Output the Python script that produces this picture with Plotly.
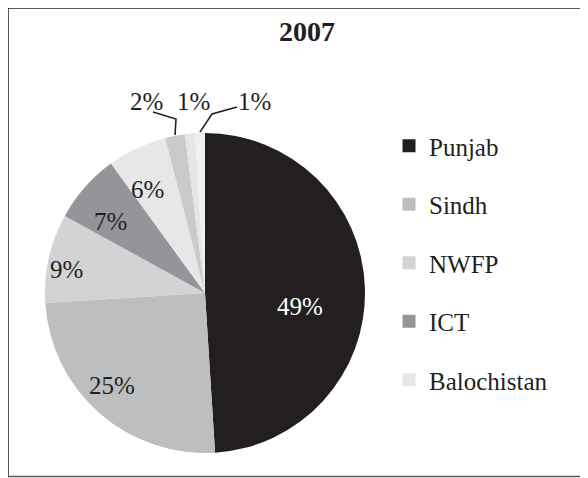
import math
import plotly.graph_objects as go

# ---- data ----
regions = ["Punjab", "Sindh", "NWFP", "ICT", "Balochistan", "FATA", "AJK", "Northern Areas"]
shares = [49, 25, 9, 7, 6, 2, 1, 1]
legend_regions = ["Punjab", "Sindh", "NWFP", "ICT", "Balochistan"]
title_text = "2007"

# ---- styling ----
W, H = 580, 470          # figure size (page adds an 8px body margin)
OFF = 8
colors = ["#231f20", "#bcbec0", "#d1d3d4", "#939598", "#e6e7e8", "#c9cacc", "#e4e5e6", "#eeeff0"]
FONT = "Liberation Serif, Times New Roman, serif"
INK = "#231f20"
CX, CY, R = 205, 293, 160  # pie centre / radius in picture px


def P(x, y):
    """picture px -> paper coords"""
    return (x - OFF) / W, 1 - (y - OFF) / H


dom_x = [(CX - R - OFF) / W, (CX + R - OFF) / W]
dom_y = [1 - (CY + R - OFF) / H, 1 - (CY - R - OFF) / H]

fig = go.Figure()
fig.add_trace(go.Pie(
    labels=regions, values=shares, sort=False, direction="clockwise", rotation=0,
    marker=dict(colors=colors, line=dict(width=0)),
    textinfo="none",
    domain=dict(x=dom_x, y=dom_y), showlegend=False, hoverinfo="label+percent",
))

# legend via dummy traces (only five regions appear in the reference legend)
for name in legend_regions:
    fig.add_trace(go.Scatter(
        x=[None], y=[None], mode="markers", name=name, legendgroup=name,
        marker=dict(symbol="square", size=13, color=colors[regions.index(name)]),
    ))

total = sum(shares)
cum = 0
mids = []
for v in shares:
    mids.append((cum + v / 2) / total)
    cum += v

shapes, annotations = [], []

# inside labels: (radius fraction, angular nudge in degrees, text colour)
inside_style = {0: (0.60, 10, "white"), 1: (0.82, 4, INK), 2: (0.88, -3, INK),
                3: (0.74, -4, INK), 4: (0.74, -4, INK)}
for idx, (rf, nudge, col) in inside_style.items():
    th = math.radians(mids[idx] * 360 + nudge)
    x = CX + rf * R * math.sin(th)
    y = CY - rf * R * math.cos(th)
    px, py = P(x, y)
    annotations.append(dict(x=px, y=py, xref="paper", yref="paper", xanchor="center", yanchor="middle",
                            text=f"{round(shares[idx] / total * 100)}%", showarrow=False,
                            font=dict(family=FONT, size=25, color=col)))

# outside labels for the small slices: (text centre, elbow, tail) in picture px
small_layout = {
    5: ((146, 101), (176, 119), (153, 112)),
    6: ((193, 101), None, None),
    7: ((254, 101), (212, 114), (237, 107)),
}
for idx, (tpos, elbow, tail) in small_layout.items():
    th = 2 * math.pi * mids[idx]
    ex = CX + R * math.sin(th)
    ey = CY - R * math.cos(th)
    tx, ty = P(*tpos)
    annotations.append(dict(x=tx, y=ty, xref="paper", yref="paper", xanchor="center", yanchor="middle",
                            text=f"{round(shares[idx] / total * 100)}%", showarrow=False,
                            font=dict(family=FONT, size=25, color=INK)))
    if elbow:
        p0 = P(ex, ey - 1)
        p1 = P(*elbow)
        p2 = P(*tail)
        shapes.append(dict(type="path", xref="paper", yref="paper",
                           path=f"M {p0[0]} {p0[1]} L {p1[0]} {p1[1]} L {p2[0]} {p2[1]}",
                           line=dict(color=INK, width=1.6)))

# frame (left, top, bottom; right edge lies outside the picture)
a, b = P(7.5, 477), P(7.5, 6)
shapes.append(dict(type="line", xref="paper", yref="paper", x0=a[0], x1=b[0], y0=a[1], y1=b[1],
                   line=dict(color=INK, width=2.5)))
a, b = P(6, 7.5), P(600, 7.5)
shapes.append(dict(type="line", xref="paper", yref="paper", x0=a[0], x1=b[0], y0=a[1], y1=b[1],
                   line=dict(color=INK, width=2.5)))
a, b = P(6, 476.5), P(600, 476.5)
shapes.append(dict(type="line", xref="paper", yref="paper", x0=a[0], x1=b[0], y0=a[1], y1=b[1],
                   line=dict(color="#58595b", width=1.5)))

tx, ty = P(307, 32)
annotations.append(dict(x=tx, y=ty, xref="paper", yref="paper", xanchor="center", yanchor="middle",
                        text=f"<b>{title_text}</b>", showarrow=False,
                        font=dict(family=FONT, size=28, color=INK)))

lx, ly = P(389, 123)
fig.update_layout(
    width=W, height=H, margin=dict(l=0, r=0, t=0, b=0),
    paper_bgcolor="white", plot_bgcolor="white",
    xaxis=dict(visible=False), yaxis=dict(visible=False),
    shapes=shapes, annotations=annotations,
    legend=dict(x=lx, y=ly, xanchor="left", yanchor="top",
                font=dict(family=FONT, size=25, color=INK),
                traceorder="grouped", tracegroupgap=23, bgcolor="rgba(0,0,0,0)"),
    showlegend=True,
)
fig.write_html("out.html")
